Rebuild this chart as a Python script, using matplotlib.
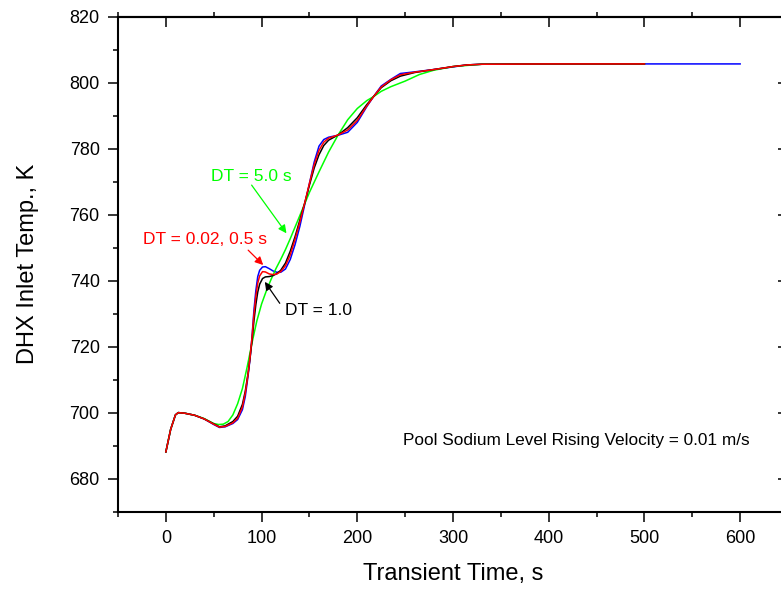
import matplotlib
matplotlib.use("Agg")
import matplotlib.pyplot as plt
from matplotlib.ticker import MultipleLocator

plt.rcParams['font.family'] = ['Liberation Sans', 'DejaVu Sans']

# ---- data ----
blue_t = [0, 5, 10, 13, 20, 30, 40, 50, 56, 62, 70, 75, 80, 83, 86, 88, 90, 92, 94, 96, 98,
          101, 104, 108, 112, 116, 120, 125, 130, 135, 140, 145, 150, 155, 160, 165, 170, 180,
          190, 200, 210, 217, 225, 235, 245, 260, 280, 300, 315, 330, 400, 500, 600]
blue_T = [688.2, 695.0, 699.4, 700.1, 699.9, 699.3, 698.2, 696.5, 695.6, 695.8, 696.8, 698.0,
          701.0, 705.0, 711.5, 716.5, 723.0, 731.0, 737.0, 741.3, 743.2,
          744.2, 744.3, 743.7, 743.0, 742.6, 742.6, 743.6, 746.5, 751.0, 756.5, 763.0, 769.5,
          776.0, 780.8, 782.8, 783.5, 784.1, 785.0, 788.0, 792.8, 795.8, 799.0, 801.0, 802.8,
          803.3, 804.0, 804.8, 805.4, 805.6, 805.7, 805.7, 805.7]

red_t = [0, 5, 10, 13, 20, 30, 40, 50, 56, 62, 70, 75, 80, 83, 86, 88, 90, 92, 94, 96, 98,
         101, 104, 108, 112, 116, 120, 125, 130, 135, 140, 145, 150, 155, 160, 165, 170, 180,
         190, 200, 210, 217, 225, 235, 245, 260, 280, 300, 315, 330, 400, 500]
red_T = [688.2, 695.0, 699.4, 700.1, 699.9, 699.3, 698.2, 696.6, 695.7, 695.9, 697.0, 698.4,
         701.8, 706.0, 712.0, 717.0, 722.8, 729.8, 735.3, 739.3, 741.5,
         742.8, 742.7, 742.1, 741.9, 742.1, 742.8, 744.6, 747.9, 752.6, 757.8, 763.5, 769.5,
         775.2, 779.5, 782.0, 783.2, 784.2, 785.7, 788.6, 793.0, 795.8, 798.7, 800.9, 802.4,
         803.2, 804.0, 804.9, 805.4, 805.6, 805.7, 805.7]

black_t = [0, 5, 10, 13, 20, 30, 40, 50, 56, 62, 70, 75, 80, 83, 86, 88, 90, 92, 94, 96, 98,
           101, 104, 108, 112, 116, 120, 125, 130, 135, 140, 145, 150, 155, 160, 165, 170, 180,
           190, 200, 210, 217, 225, 235, 245, 260, 280, 300, 315, 330, 400, 500]
black_T = [688.2, 695.0, 699.4, 700.1, 699.9, 699.3, 698.2, 696.7, 695.8, 696.1, 697.4, 699.0,
           702.6, 706.6, 712.2, 716.8, 721.8, 727.8, 732.8, 736.6, 739.0,
           740.7, 741.2, 741.3, 741.6, 742.2, 743.2, 745.4, 749.0, 753.4, 758.4, 763.5, 769.0,
           774.2, 778.2, 781.0, 782.6, 784.2, 786.4, 789.4, 793.4, 795.8, 798.5, 800.6, 802.0,
           803.1, 804.0, 804.9, 805.4, 805.6, 805.7, 805.7]

green_t = [0, 5, 10, 13, 20, 30, 40, 50, 55, 60, 65, 70, 75, 80, 85, 90, 95, 100, 105, 110,
           115, 120, 125, 130, 135, 140, 145, 150, 160, 170, 180, 190, 200, 210, 217, 225, 235,
           250, 265, 280, 300, 330, 400, 500]
green_T = [688.2, 695.0, 699.4, 700.1, 699.9, 699.3, 698.3, 696.8, 696.5, 696.6, 697.4, 699.4,
           702.8, 707.4, 714.0, 721.2, 727.8, 733.0, 737.0, 740.5,
           743.7, 746.5, 749.5, 752.8, 756.3, 759.8, 763.3, 766.8, 773.0, 779.0, 784.2, 788.8,
           792.2, 794.6, 795.8, 797.4, 798.8, 800.5, 802.5, 803.8, 804.9, 805.6, 805.7, 805.7]

x_ticks = [0, 100, 200, 300, 400, 500, 600]
y_ticks = [680, 700, 720, 740, 760, 780, 800, 820]

fig = plt.figure(figsize=(7.81, 5.95), dpi=100)
ax = fig.add_axes([118 / 781, 1 - 512 / 595, 670 / 781, (512 - 16.7) / 595])

lw = 1.1
ax.plot(blue_t, blue_T, color='#0000ff', lw=lw)
ax.plot(green_t, green_T, color='#00ff00', lw=lw)
ax.plot(black_t, black_T, color='black', lw=lw)
ax.plot(red_t, red_T, color='#ff0000', lw=lw)

ax.set_xlim(-50, 650)
ax.set_ylim(670, 820)
ax.set_xticks(x_ticks)
ax.set_yticks(y_ticks)
ax.xaxis.set_minor_locator(MultipleLocator(50))
ax.yaxis.set_minor_locator(MultipleLocator(10))

for s in ax.spines.values():
    s.set_linewidth(1.5)

ax.tick_params(which='major', direction='out', length=7.2, width=1.1, labelsize=13, pad=6)
ax.tick_params(which='minor', direction='out', length=3.6, width=1.1)

# mirrored axes: major ticks inward, minor outward
sx = ax.secondary_xaxis('top')
sx.set_xticks(x_ticks)
sx.xaxis.set_minor_locator(MultipleLocator(50))
sx.tick_params(which='major', direction='in', length=7.2, width=1.1, labeltop=False)
sx.tick_params(which='minor', direction='out', length=3.6, width=1.1)
sy = ax.secondary_yaxis('right')
sy.set_yticks(y_ticks)
sy.yaxis.set_minor_locator(MultipleLocator(10))
sy.tick_params(which='major', direction='in', length=7.2, width=1.1, labelright=False)
sy.tick_params(which='minor', direction='out', length=3.6, width=1.1)
for sec in (sx, sy):
    for s in sec.spines.values():
        s.set_linewidth(1.5)

ax.set_xlabel('Transient Time, s', fontsize=17, labelpad=11)
ax.set_ylabel('DHX Inlet Temp., K', fontsize=17, labelpad=22)

fs = 12.5
arr = dict(arrowstyle='-|>', lw=0.9, mutation_scale=12, shrinkA=0, shrinkB=0)
ax.text(89, 771.5, 'DT = 5.0 s', color='#00ff00', fontsize=fs, ha='center', va='center')
ax.annotate('', xy=(126, 754.4), xytext=(89.6, 769),
            arrowprops=dict(arr, color='#00ff00'))
ax.text(40.6, 752.5, 'DT = 0.02, 0.5 s', color='#ff0000', fontsize=fs, ha='center', va='center')
ax.annotate('', xy=(101.7, 744.8), xytext=(86, 749.3),
            arrowprops=dict(arr, color='#ff0000'))
ax.text(124.3, 731.1, 'DT = 1.0', color='black', fontsize=fs, ha='left', va='center')
ax.annotate('', xy=(103.4, 739.7), xytext=(119, 733.2),
            arrowprops=dict(arr, color='black'))
ax.text(248, 691.7, 'Pool Sodium Level Rising Velocity = 0.01 m/s',
        fontsize=12.4, ha='left', va='center', color='black')

fig.savefig('out.png', dpi=100)
